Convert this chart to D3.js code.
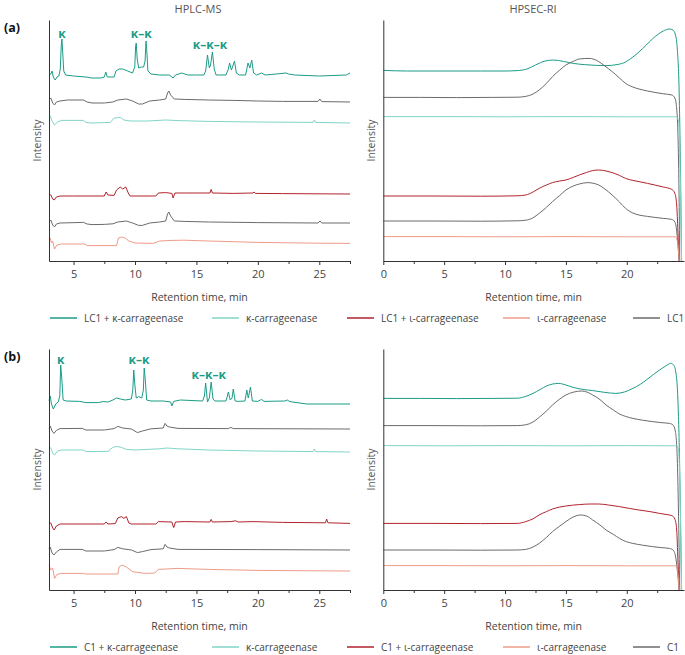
<!DOCTYPE html>
<html><head><meta charset="utf-8">
<script src="https://cdn.jsdelivr.net/npm/d3@7"></script>
<style>
body{margin:0;background:#fff}
svg{display:block}
text{font-family:"Open Sans","Noto Sans",sans-serif}
</style>
</head><body><svg id="c" width="685" height="655"></svg>
<script>
// ---------------- DATA ----------------
const panelTitles = ["HPLC-MS", "HPSEC-RI"];
const rowLabels = ["(a)", "(b)"];
const xAxisTitle = "Retention time, min";
const yAxisTitle = "Intensity";
const hplcDomain = [3, 27.5];
const secDomain = [0, 24.7];
const yDomain = [0, 120.5];
const hplcTicks = [5, 10, 15, 20, 25];
const secTicks = [0, 5, 10, 15, 20];
const hplcMinor = [7.5, 12.5, 17.5, 22.5, 27.5];
const secMinor = [2.5, 7.5, 12.5, 17.5, 22.5];
const legendA = ["LC1 + κ-carrageenase", "κ-carrageenase", "LC1 + ι-carrageenase", "ι-carrageenase", "LC1"];
const legendB = ["C1 + κ-carrageenase", "κ-carrageenase", "C1 + ι-carrageenase", "ι-carrageenase", "C1"];
const peakLabels = ["κ", "κ–κ", "κ–κ–κ"];
const peakLabelPosA = [[4.05, 114], [10.5, 114], [16.1, 108.5]];
const peakLabelPosB = [[3.95, 115.5], [10.33, 115.5], [16.0, 108]];

// HPLC-MS (a)
const hplcA_enzK = [[3.0,93],[3.15,93.5],[3.25,95],[3.35,92],[3.5,90.5],[3.65,92],[3.8,92.5],[3.92,96],[4.0,108],[4.05,111],[4.12,104],[4.2,95],[4.35,93],[5,92.5],[6,92],[6.5,91.5],[7.2,91.5],[7.5,92],[7.62,94.5],[7.75,92],[8.3,92],[8.45,95],[8.7,96],[9.0,96],[9.4,95],[9.8,94],[9.98,97],[10.05,107],[10.1,109],[10.18,101],[10.3,96.5],[10.5,97],[10.7,97],[10.82,100],[10.9,110],[10.97,104],[11.05,95],[11.3,93.5],[12,93],[12.8,93],[13.1,91.5],[13.3,93],[13.8,94],[14.3,93],[15,93],[15.6,93],[15.75,95],[15.9,103],[16.05,96.5],[16.15,98],[16.3,104.5],[16.45,96],[16.6,93],[17.4,93],[17.6,96],[17.7,99],[17.85,95.5],[18.1,100],[18.25,94],[18.5,93],[19.0,93],[19.1,96],[19.2,99],[19.35,96.5],[19.5,100.5],[19.65,94],[19.9,93],[20.3,94],[20.6,93],[21.5,93.5],[22.3,94],[22.5,93.5],[23,93],[25,92.5],[27.2,93],[27.5,94]];
const hplcA_base1 = [[3.0,80.5],[3.15,81.5],[3.3,79],[3.45,78],[3.6,79.5],[3.9,80],[4.5,80.5],[5.8,80.5],[6.1,79.5],[6.5,79],[7.5,79],[8.2,79.5],[8.6,80.5],[9.3,81],[9.8,80],[10.3,78.5],[10.6,78.5],[11.2,80],[12,80.5],[12.5,81],[12.65,84],[12.75,85],[12.9,83],[13.2,81],[14,80.8],[16,80.5],[18,80.3],[20,80],[22,79.8],[24.9,79.8],[25.05,81],[25.2,79.7],[27.5,79.5]];
const hplcA_kOnly = [[3.0,72],[3.1,72.5],[3.25,70],[3.45,68],[3.7,69.5],[4.0,70.3],[5.8,70.3],[6.0,69.3],[6.5,69],[8.0,69.3],[8.3,71.5],[8.8,71.8],[9.1,70.5],[9.6,70],[11,70],[12.5,70.5],[13.5,70.2],[16,69.8],[20,69.5],[24.5,69.3],[24.6,70.5],[24.7,69.3],[27.5,69]];
const hplcA_enzI = [[3.0,33.5],[3.15,33],[3.3,31],[3.42,30.5],[3.6,32],[3.9,32.5],[5,32.5],[7.5,32.5],[7.65,34.5],[7.8,33],[8.3,32.8],[8.5,35.5],[8.8,37],[9.0,36],[9.25,37],[9.45,34],[9.6,32.5],[11.7,32.5],[11.9,34],[12.5,34.2],[13.0,33.8],[13.1,31.5],[13.25,34],[14,34],[16.1,34],[16.2,35.8],[16.3,34],[18,33.8],[19.6,34],[19.7,34.5],[19.8,33.8],[22,33.7],[27.5,33.5]];
const hplcA_base2 = [[3.0,19.5],[3.15,20.5],[3.3,18],[3.45,17],[3.6,18.5],[3.9,19],[5.8,19.3],[6.1,18.5],[6.5,18.2],[7.5,18.3],[8.2,18.6],[8.6,19.5],[9.3,20],[9.8,19],[10.3,17.8],[10.6,17.8],[11.2,19],[12,19.5],[12.5,20],[12.65,23.5],[12.75,24.5],[12.9,22.5],[13.2,20],[14,19.8],[16,19.5],[20,19.2],[24.9,19],[25.05,20],[25.2,19],[27.5,19]];
const hplcA_iOnly = [[3.0,11.5],[3.1,11.5],[3.2,9],[3.3,10],[3.45,6],[3.65,8],[4,8.5],[5.9,8.5],[6.1,7.7],[8.5,7.7],[8.65,11.5],[8.9,12],[9.2,11.5],[9.5,10],[10,9],[11.5,8.8],[12,10],[13,10.3],[14,10.4],[16,10],[20,9.3],[25,8.9],[27.5,8.8]];

// HPSEC-RI (a)
const secA_enzK = [[0,95.3],[2,95],[5,95],[8,95],[10,95],[11,95.2],[11.8,96],[12.5,98],[13.3,100],[14,100.5],[14.8,99.8],[15.6,98.8],[16.5,98.2],[17.5,97.8],[18.3,97.7],[19.2,98.2],[19.9,99.5],[20.5,102],[21,104.5],[21.6,108],[22.1,111],[22.6,113.5],[23.0,115],[23.5,116],[23.8,115.5],[24.0,113],[24.15,106],[24.3,85],[24.4,50],[24.5,0]];
const secA_base1 = [[0,81.8],[3,81.8],[6,81.7],[9,81.8],[11,81.9],[11.7,82.3],[12.3,83.5],[12.8,85.5],[13.4,88.8],[13.9,92.2],[14.5,95.5],[15,98],[15.6,99.8],[16.1,101],[16.9,101.3],[17.7,99.7],[18.2,97.5],[18.8,94.7],[19.4,91.5],[19.9,88.8],[20.5,87],[21,86],[21.7,85],[22.3,84.3],[23,83.6],[23.7,83],[23.95,81.5],[24.1,76],[24.2,64],[24.3,30],[24.35,0]];
const secA_kOnly = [[0,72.2],[5,72.2],[10,72.1],[15,72.2],[20,72.1],[24.1,72.1],[24.25,70],[24.4,40],[24.5,0]];
const secA_enzI = [[0,32.5],[4,32.5],[8,32.4],[11,32.6],[11.7,33],[12.3,34.5],[12.8,36.3],[13.4,38],[13.9,39.2],[14.5,40],[15,40.5],[15.6,41.8],[16.1,43],[16.7,44.3],[17.2,45.2],[17.7,45.5],[18.3,45],[18.8,44.2],[19.4,42.8],[19.9,41.3],[20.5,40.3],[21,39.7],[21.7,38.8],[22.3,38],[23,37],[23.7,35.8],[23.95,33.8],[24.1,28],[24.2,15],[24.3,0]];
const secA_base2 = [[0,20],[4,20],[8,19.9],[11,20.1],[11.7,20.4],[12.3,21.6],[12.8,23.8],[13.4,26.8],[13.9,29.7],[14.5,32.8],[15,35.5],[15.6,37.5],[16.1,38.5],[16.8,39.2],[17.2,38.9],[17.7,38],[18.2,36],[18.8,33],[19.4,29.5],[19.9,26.3],[20.5,24],[21,23],[21.7,22.3],[22.3,21.8],[23,21.3],[23.7,20.8],[23.95,19.5],[24.1,15],[24.2,8],[24.3,0]];
const secA_iOnly = [[0,12.2],[5,12.2],[10,12.1],[15,12.2],[20,12.1],[24.0,12.1],[24.15,10],[24.25,5],[24.3,0]];

// HPLC-MS (b)
const hplcB_enzK = [[3.0,94.7],[3.1,97],[3.2,93],[3.35,90.5],[3.55,93],[3.75,94],[3.88,97],[3.95,112.5],[4.05,105],[4.15,95],[4.4,94.5],[5.5,94.3],[6,93.7],[7,93.7],[7.4,94.2],[7.8,94],[8.2,95],[8.5,96],[8.8,95.5],[9.2,95],[9.7,95.5],[9.82,100],[9.9,110],[9.98,103],[10.1,96],[10.3,96.7],[10.55,96],[10.68,100],[10.75,111],[10.85,104],[10.95,95],[11.3,94.5],[12.3,94.5],[12.9,94],[13.0,92],[13.15,94.3],[13.7,95],[15.5,94.5],[15.65,97],[15.75,103.5],[15.9,94],[16.05,96],[16.2,104],[16.35,95.5],[16.5,94.5],[17.4,94.5],[17.52,97],[17.6,99],[17.75,95],[17.9,96],[18.0,100.5],[18.15,94.5],[18.4,94.3],[18.95,94.5],[19.05,98],[19.1,100],[19.22,96],[19.4,101.5],[19.55,94.5],[20,94.3],[20.3,95.3],[20.5,94.3],[22.2,94.5],[22.4,95],[22.6,94.2],[24,93],[27.5,93]];
const hplcB_base1 = [[3.0,80.8],[3.1,82],[3.25,79.5],[3.4,78.3],[3.6,79.8],[3.9,80.7],[5.7,80.8],[6.0,80],[7.5,80],[8.3,80.7],[8.6,81.8],[9.0,81],[9.7,80.5],[10.2,78.7],[10.6,79.5],[11.3,80.6],[12.3,81],[12.45,83.3],[12.6,82],[12.8,81.5],[13.5,80.8],[17.6,80.7],[17.8,81.3],[18,80.7],[27.5,80.5]];
const hplcB_kOnly = [[3.0,71.7],[3.15,71],[3.3,68.5],[3.45,67.5],[3.7,69.5],[4.0,70],[5.8,70],[6.0,69.2],[7.8,69.3],[8.2,71.3],[8.5,71.8],[8.9,71.3],[9.3,70.3],[10,70],[12,70.6],[12.6,71],[13.5,70.6],[16,70],[20,69.5],[24.5,69.2],[24.6,70.5],[24.7,69.2],[27.5,69]];
const hplcB_enzI = [[3.0,33.3],[3.15,33.5],[3.3,31],[3.42,30],[3.6,32],[3.9,33],[7.5,33],[7.65,34],[7.8,33],[8.4,33.2],[8.6,36],[8.9,36.7],[9.1,35.8],[9.3,36.7],[9.5,33.5],[9.7,33],[11.7,33],[11.9,34.2],[13.0,34],[13.15,31.2],[13.3,34],[14,34.2],[16.1,34],[16.2,35.3],[16.3,34],[17.8,34.2],[18.2,34.6],[18.4,34],[19.6,34.2],[22,33.8],[25.5,33.6],[25.6,35.5],[25.7,33.6],[27.5,33.3]];
const hplcB_base2 = [[3.0,20.8],[3.1,21.5],[3.25,18.5],[3.4,17.5],[3.6,19],[3.9,20.3],[5.7,20.3],[6.0,19.5],[7.5,19.5],[8.3,20.2],[8.6,21.3],[9.0,20.6],[9.7,20],[10.2,18.7],[10.6,19.2],[11.3,20.2],[12.3,20.6],[12.45,22.8],[12.6,21.5],[12.8,21],[13.5,20.3],[20,20.2],[27.5,20]];
const hplcB_iOnly = [[3.0,12.5],[3.15,10],[3.3,11],[3.45,5.8],[3.65,7.8],[4,8.3],[5.8,8.3],[6.0,8],[8.6,8],[8.7,11.5],[8.95,12.5],[9.3,11.5],[9.8,9.2],[10.8,8.3],[11.6,8.5],[11.9,10.3],[13.5,10.8],[16,10.3],[20,9.8],[27.5,9.5]];

// HPSEC-RI (b)
const secB_enzK = [[0,95.8],[3,95.8],[6,95.7],[9,95.8],[11,95.9],[11.7,96.8],[12.3,98.3],[12.9,100.3],[13.4,102],[14.4,103.3],[15,102.5],[15.6,101.3],[16.4,100.3],[17.2,99.7],[18.2,98.8],[19.1,98.3],[19.8,99],[20.5,100.8],[21.1,102.8],[21.6,105],[22.2,107.8],[22.7,110],[23.2,112],[23.6,113.3],[23.85,112.5],[24.05,108],[24.2,95],[24.35,60],[24.45,20],[24.5,0]];
const secB_base1 = [[0,82.2],[4,82.2],[8,82.1],[11,82.2],[11.7,82.6],[12.3,84],[12.8,86.3],[13.4,89.5],[13.9,92.5],[14.5,95.5],[15,97.5],[15.6,98.9],[16.3,99.5],[16.8,98.8],[17.2,97.5],[17.8,95.2],[18.3,92.5],[18.9,90],[19.4,88],[19.9,86.8],[20.5,85.8],[21.3,84.9],[22.1,84.2],[22.8,83.7],[23.5,83.3],[23.8,82.5],[24.0,79],[24.15,65],[24.3,20],[24.35,0]];
const secB_kOnly = [[0,72.2],[5,72.1],[10,72.2],[15,72.1],[20,72.2],[24.1,72.1],[24.25,70],[24.4,40],[24.5,0]];
const secB_enzI = [[0,33.3],[4,33.3],[8,33.2],[11,33.3],[11.7,34.2],[12.3,35.6],[12.8,37.5],[13.4,39.2],[13.9,40.5],[14.5,41.5],[15,42],[16.1,42.7],[17,43],[17.7,43],[18.5,42.5],[19.4,41.7],[20.2,40.8],[21,40],[21.9,39.2],[22.7,38.3],[23.3,37.7],[23.7,37.2],[23.95,35.5],[24.1,30],[24.2,15],[24.3,0]];
const secB_base2 = [[0,20],[4,20],[8,19.9],[11,20],[11.7,20.3],[12.3,21.5],[12.8,23.3],[13.4,26.3],[13.9,29.2],[14.5,32],[15,34.2],[15.6,36.5],[16.2,37.5],[16.7,37],[17.2,35],[17.8,32.5],[18.3,30],[18.9,27.8],[19.4,25.8],[19.9,24.3],[20.5,23.3],[21.3,22.4],[22.1,21.7],[22.8,21.2],[23.5,20.8],[23.8,20],[24.0,17],[24.15,10],[24.3,0]];
const secB_iOnly = [[0,12.2],[5,12.2],[10,12.1],[15,12.2],[20,12.1],[24.0,12.1],[24.15,10],[24.25,5],[24.3,0]];

// ---------------- STYLE / LAYOUT ----------------
const COL = {enzK:"#1b9c87", kOnly:"#82d5c9", enzI:"#b1232d", iOnly:"#ee9c88", base:"#6b6b6b"};
const legendColors = [COL.enzK, COL.kOnly, COL.enzI, COL.iOnly, COL.base];
const rows = [{top:20, axis:261}, {top:349, axis:590}];
const hplcRange = [49, 350];
const secRange = [383.3, 684];

const svg = d3.select("#c");

function drawPanel(row, kind, series, labelsPos) {
  const r = rows[row];
  const x = d3.scaleLinear().domain(kind === "hplc" ? hplcDomain : secDomain).range(kind === "hplc" ? hplcRange : secRange);
  const y = d3.scaleLinear().domain(yDomain).range([r.axis, r.top]);
  const g = svg.append("g");
  const line = d3.line().x(d => x(d[0])).y(d => y(d[1]))
    .curve(kind === "hplc" ? d3.curveLinear : d3.curveMonotoneX);
  series.forEach(s => {
    g.append("path").attr("d", line(s.data)).attr("fill", "none")
      .attr("stroke", s.color).attr("stroke-width", 1).attr("stroke-linejoin", "round");
  });
  // axes
  const ax = d3.axisBottom(x).tickValues(kind === "hplc" ? hplcTicks : secTicks)
    .tickSize(4).tickSizeOuter(0).tickFormat(d3.format("d"));
  const axg = g.append("g").attr("transform", `translate(0,${r.axis})`).call(ax);
  axg.select(".domain").attr("stroke", "#333");
  axg.selectAll(".tick line").attr("stroke", "#333");
  axg.selectAll(".tick text").attr("font-size", 11).attr("fill", "#444")
     .attr("font-family", "'Open Sans', sans-serif").attr("dy", "0.95em");
  const minor = d3.axisBottom(x).tickValues(kind === "hplc" ? hplcMinor : secMinor)
    .tickSize(3).tickSizeOuter(0).tickFormat("");
  const mg = g.append("g").attr("transform", `translate(0,${r.axis})`).call(minor);
  mg.select(".domain").remove();
  mg.selectAll(".tick line").attr("stroke", "#333");
  const ya = d3.axisLeft(y).tickValues([]).tickSizeOuter(0);
  const yg = g.append("g").attr("transform", `translate(${x.range()[0]},0)`).call(ya);
  yg.select(".domain").attr("stroke", "#333");
  // axis titles
  const cx = (x.range()[0] + x.range()[1]) / 2;
  g.append("text").attr("x", cx).attr("y", r.axis + 40).attr("text-anchor", "middle")
    .attr("font-size", 10.5).attr("fill", "#444").text(xAxisTitle);
  g.append("text").attr("transform", `translate(${x.range()[0] - 8},${(r.top + r.axis) / 2}) rotate(-90)`)
    .attr("text-anchor", "middle").attr("font-size", 10.5).attr("fill", "#555").text(yAxisTitle);
  if (row === 0) {
    g.append("text").attr("x", kind === "hplc" ? 198 : 533).attr("y", 13).attr("text-anchor", "middle")
      .attr("font-size", 11).attr("fill", "#555").text(panelTitles[kind === "hplc" ? 0 : 1]);
  }
  if (labelsPos) {
    peakLabels.forEach((t, i) => {
      g.append("text").attr("x", x(labelsPos[i][0])).attr("y", y(labelsPos[i][1]))
        .attr("text-anchor", "middle").attr("dominant-baseline", "central")
        .attr("font-size", 12).attr("font-weight", "bold").attr("fill", COL.enzK)
        .attr("font-family", "'DejaVu Serif', serif").text(t);
    });
  }
}

function mk(arrs) {
  const cols = [COL.enzK, COL.base, COL.kOnly, COL.enzI, COL.base, COL.iOnly];
  return arrs.map((d, i) => ({data: d, color: cols[i]}));
}

drawPanel(0, "hplc", mk([hplcA_enzK, hplcA_base1, hplcA_kOnly, hplcA_enzI, hplcA_base2, hplcA_iOnly]), peakLabelPosA);
drawPanel(0, "sec", mk([secA_enzK, secA_base1, secA_kOnly, secA_enzI, secA_base2, secA_iOnly]), null);
drawPanel(1, "hplc", mk([hplcB_enzK, hplcB_base1, hplcB_kOnly, hplcB_enzI, hplcB_base2, hplcB_iOnly]), peakLabelPosB);
drawPanel(1, "sec", mk([secB_enzK, secB_base1, secB_kOnly, secB_enzI, secB_base2, secB_iOnly]), null);

// row labels
rowLabels.forEach((t, i) => {
  svg.append("text").attr("x", 4).attr("y", rows[i].top + 12).attr("font-size", 12.5)
    .attr("font-weight", "bold").attr("fill", "#111").text(t);
});

// legends
const legX = [50, 212, 347, 503, 633];
[legendA, legendB].forEach((names, ri) => {
  const ly = rows[ri].axis + 57;
  names.forEach((n, i) => {
    svg.append("line").attr("x1", legX[i]).attr("x2", legX[i] + 27).attr("y1", ly).attr("y2", ly)
      .attr("stroke", legendColors[i]).attr("stroke-width", 1.5);
    svg.append("text").attr("x", legX[i] + 34).attr("y", ly).attr("dominant-baseline", "central")
      .attr("font-size", 10).attr("fill", "#444").text(n);
  });
});
</script></body></html>
